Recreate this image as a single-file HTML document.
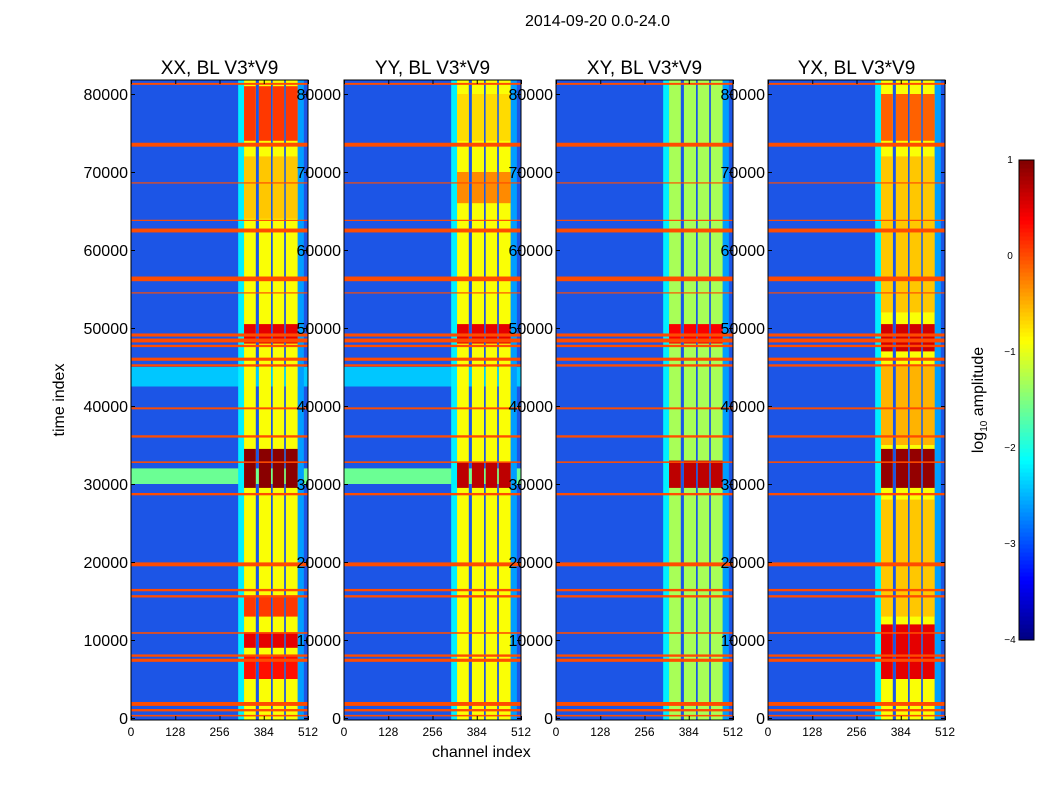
<!DOCTYPE html>
<html><head><meta charset="utf-8">
<style>
body{margin:0;background:#fff;font-family:"Liberation Sans",sans-serif;}
#wrap{position:relative;width:1050px;height:800px;overflow:hidden;}
.t{position:absolute;color:#000;white-space:nowrap;}
</style></head>
<body>
<div id="wrap">
<div class="t" style="left:525px;top:13px;font-size:16px;">2014-09-20 0.0-24.0</div>
<div class="t" style="left:432px;top:744px;font-size:16px;">channel index</div>
<div class="t" style="left:60px;top:400px;font-size:16px;transform:translate(-50%,-50%) rotate(-90deg);">time index</div>
<div class="t" style="left:980px;top:400px;font-size:16px;transform:translate(-50%,-50%) rotate(-90deg);">log<sub style="font-size:10px">10</sub> amplitude</div>
<svg id="cbar" width="1050" height="800" style="position:absolute;left:0;top:0;pointer-events:none"></svg>
</div>
<script>
// ---- data ----
const panelTitles = ["XX, BL V3*V9","YY, BL V3*V9","XY, BL V3*V9","YX, BL V3*V9"];
const yTicks = [0,10000,20000,30000,40000,50000,60000,70000,80000];
const xTicks = [0,128,256,384,512];
const cbTicks = [1,0,-1,-2,-3,-4];
// band stripes [startChannel, endChannel]
const bandStripes = [[327,361],[370,405],[410,443],[448,482]];
// horizontal RFI lines [time, duration]
const rfiLines = [[81300,250],[73500,500],[68600,150],[63800,150],[62500,500],[56300,600],[54500,150],[49100,400],[48400,500],[47700,300],[46000,400],[45200,300],[39700,250],[36100,300],[32800,200],[28700,300],[19700,500],[16400,300],[15600,300],[10900,200],[8000,300],[7400,400],[1800,500],[1000,300],[300,200]];
// hot segments in band per panel [t0, t1, log amplitude]
const hot0 = [[74000,81000,0.1],[48000,50500,0.5],[29500,34500,0.95],[13000,15500,0.1],[9000,11000,0.5],[5000,8000,0.3],[64000,72000,-0.6]];
const hot1 = [[29500,32800,0.7],[48000,50500,0.5],[66000,70000,-0.3],[74000,80000,-0.7]];
const hot2 = [[29500,33000,0.7],[48000,50500,0.4]];
const hot3 = [[74000,80000,-0.1],[47000,50500,0.6],[29500,34500,0.9],[5000,12000,0.5],[52000,72000,-0.6],[13000,28000,-0.6],[35000,45000,-0.5]];
const hotSegs = [hot0,hot1,hot2,hot3];
// low haze bands [t0,t1,log amplitude] panel 1/2
const haze = [[42500,45000,-2.4],[30000,32000,-1.6]];

// ---- layout ----
const panelX = [131,344,556,768], pw=177, pTop=80, pBottom=720;
const X = (c,p)=>panelX[p]+c/512*pw;
const Y = v=>718 - v*(624/80000);
function jet(v){ // v in [-4,1]
  let x=(v+4)/5; x=Math.max(0,Math.min(1,x));
  const r=Math.min(1,Math.max(0,1.5-Math.abs(4*x-3)));
  const g=Math.min(1,Math.max(0,1.5-Math.abs(4*x-2)));
  const b=Math.min(1,Math.max(0,1.5-Math.abs(4*x-1)));
  return `rgb(${Math.round(r*255)},${Math.round(g*255)},${Math.round(b*255)})`;
}
const NS="http://www.w3.org/2000/svg";
const svg=document.getElementById('cbar');
function R(x,y,w,h,fill,name){const r=document.createElementNS(NS,'rect');
r.setAttribute('x',x);r.setAttribute('y',y);r.setAttribute('width',w);r.setAttribute('height',Math.max(h,1));r.setAttribute('fill',fill);


svg.appendChild(r);return r;}
function T(x,y,s,size,anchor,name){const t=document.createElementNS(NS,'text');
t.setAttribute('x',x);t.setAttribute('y',y);t.setAttribute('font-size',size);t.setAttribute('text-anchor',anchor);
t.setAttribute('font-family','Liberation Sans, sans-serif');t.textContent=s;


svg.appendChild(t);}
for(let p=0;p<4;p++){
  const x0=panelX[p];
  R(x0,pTop,pw,pBottom-pTop,'#1c55e6','heatmap-background');
  if(p<2) haze.forEach(h=>R(x0,Y(h[1]),pw,Y(h[0])-Y(h[1]),jet(h[2]),'haze-band'));
  R(X(310,p),pTop,X(327,p)-X(310,p),pBottom-pTop,jet(-2.2),'band-edge');
  R(X(482,p),pTop,X(500,p)-X(482,p),pBottom-pTop,jet(-2.6),'band-edge');
  bandStripes.forEach(s=>R(X(s[0],p),pTop,X(s[1],p)-X(s[0],p),pBottom-pTop,jet(p==2?-1.3:-0.9),'band-stripe'));
  hotSegs[p].forEach(h=>bandStripes.forEach(s=>R(X(s[0],p),Y(h[1]),X(s[1],p)-X(s[0],p),Y(h[0])-Y(h[1]),jet(h[2]),'band-hot-cell')));
  rfiLines.forEach(l=>R(x0,Y(l[0]+l[1]/2),pw,Y(l[0]-l[1]/2)-Y(l[0]+l[1]/2),jet(0),'rfi-line'));
  const f=R(x0,pTop,pw,pBottom-pTop,'none','panel-frame');f.setAttribute('stroke','#000');
  T(x0+pw/2,74,panelTitles[p],19,'middle','panel-title');
  yTicks.forEach(v=>{T(x0-3,Y(v)+6,String(v),16,'end','y-tick-label');
    R(x0,Y(v),4,1,'#000','y-tick');R(x0+pw-4,Y(v),4,1,'#000','y-tick');});
  xTicks.forEach(c=>{T(X(c,p),736,String(c),12,'middle','x-tick-label');
    R(X(c,p),pBottom-4,1,4,'#000','x-tick');R(X(c,p),pTop,1,4,'#000','x-tick');});
}
for(let i=0;i<120;i++){const v=-4+5*(i+0.5)/120;
  R(1019,160+480*(1-(i+1)/120),15,480/120+0.5,jet(v),'colorbar-cell');}
const cf=R(1019,160,15,480,'none','colorbar-frame');cf.setAttribute('stroke','#000');
cbTicks.forEach(v=>{const y=160+(1-v)*96;T(1010,y+3,v<0?'\u2212'+(-v):String(v),10,'middle','colorbar-tick-label');});
</script>
</body></html>
